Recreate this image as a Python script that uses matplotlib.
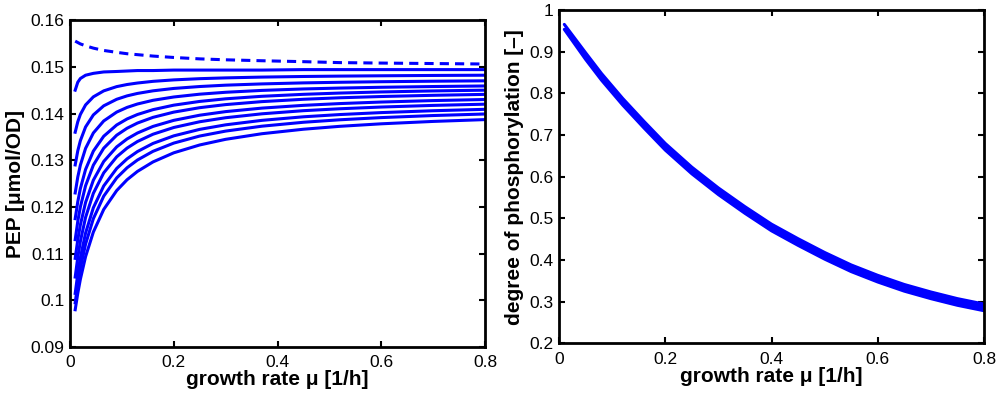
import matplotlib
matplotlib.use("Agg")
import matplotlib.pyplot as plt
from matplotlib.ticker import FuncFormatter

plt.rcParams["font.family"] = ["Liberation Sans", "DejaVu Sans"]

# growth rate samples (1/h)
mu = [0.01, 0.015, 0.02, 0.03, 0.045, 0.065, 0.09, 0.11, 0.13, 0.16,
      0.2, 0.25, 0.3, 0.37, 0.45, 0.52, 0.6, 0.7, 0.8]

# PEP concentration curves (umol/OD), top to bottom
pep_dashed = [0.1555, 0.1552, 0.1549, 0.1545, 0.1540, 0.1535, 0.1531, 0.1528, 0.1526, 0.1523,
              0.1520, 0.1517, 0.1515, 0.1513, 0.1511, 0.1509, 0.1508, 0.1507, 0.1506]
pep_curves = [
    [0.1450, 0.1467, 0.1475, 0.1482, 0.1486, 0.1489, 0.1490, 0.1491, 0.1492, 0.1492,
     0.1493, 0.1493, 0.1493, 0.1493, 0.1494, 0.1494, 0.1494, 0.1494, 0.1494],
    [0.1360, 0.13824, 0.13981, 0.14184, 0.14357, 0.14485, 0.14576, 0.14621, 0.14653, 0.14689,
     0.1472, 0.14746, 0.14763, 0.1478, 0.14793, 0.14801, 0.14808, 0.14815, 0.1482],
    [0.1290, 0.13202, 0.13419, 0.13712, 0.1397, 0.14165, 0.14305, 0.14378, 0.1443, 0.14486,
     0.14537, 0.14578, 0.14607, 0.14634, 0.14656, 0.14669, 0.14681, 0.14692, 0.1470],
    [0.1230, 0.12641, 0.12897, 0.13254, 0.13584, 0.13841, 0.14031, 0.14131, 0.14204, 0.14283,
     0.14354, 0.14414, 0.14455, 0.14495, 0.14526, 0.14545, 0.14562, 0.14578, 0.1459],
    [0.1175, 0.12113, 0.12395, 0.12803, 0.13195, 0.13514, 0.13755, 0.13884, 0.13979, 0.14083,
     0.14179, 0.14259, 0.14315, 0.14369, 0.14411, 0.14438, 0.14462, 0.14484, 0.1450],
    [0.1130, 0.11693, 0.12001, 0.12454, 0.12895, 0.13258, 0.13536, 0.13685, 0.13796, 0.13918,
     0.1403, 0.14125, 0.14191, 0.14255, 0.14305, 0.14337, 0.14364, 0.1439, 0.1441],
    [0.1090, 0.1130, 0.11618, 0.12096, 0.12573, 0.12974, 0.13286, 0.13456, 0.13583, 0.13724,
     0.13854, 0.13964, 0.14041, 0.14116, 0.14175, 0.14213, 0.14246, 0.14277, 0.1430],
    [0.1050, 0.10923, 0.11263, 0.11776, 0.12292, 0.1273, 0.13073, 0.1326, 0.13401, 0.13557,
     0.13701, 0.13824, 0.1391, 0.13994, 0.14061, 0.14102, 0.14139, 0.14174, 0.1420],
    [0.1015, 0.1057, 0.10914, 0.11441, 0.11983, 0.1245, 0.12824, 0.1303, 0.13186, 0.1336,
     0.13522, 0.13661, 0.13758, 0.13854, 0.1393, 0.13978, 0.1402, 0.1406, 0.1409],
    [0.0995, 0.10351, 0.10684, 0.11204, 0.11749, 0.12231, 0.12622, 0.12839, 0.13005, 0.13191,
     0.13367, 0.13518, 0.13624, 0.13729, 0.13813, 0.13866, 0.13913, 0.13957, 0.1399],
    [0.0980, 0.10153, 0.10453, 0.10936, 0.11463, 0.11947, 0.12351, 0.12583, 0.12761, 0.12964,
     0.13159, 0.13327, 0.13448, 0.13568, 0.13664, 0.13726, 0.1378, 0.13831, 0.1387],
]

# degree of phosphorylation band (upper / lower edge)
mu_phos = [0.01, 0.03, 0.05, 0.08, 0.12, 0.16, 0.2, 0.25, 0.3, 0.35, 0.4,
           0.45, 0.5, 0.55, 0.6, 0.65, 0.7, 0.75, 0.8]
phos_upper = [0.966, 0.932, 0.898, 0.848, 0.788, 0.733, 0.680, 0.623, 0.573, 0.528,
              0.486, 0.451, 0.418, 0.388, 0.363, 0.341, 0.323, 0.307, 0.294]
phos_lower = [0.954, 0.918, 0.882, 0.832, 0.772, 0.717, 0.664, 0.607, 0.557, 0.512,
              0.470, 0.435, 0.402, 0.372, 0.347, 0.325, 0.307, 0.291, 0.278]

blue = "#0000ff"
fmt = FuncFormatter(lambda v, p: "{:g}".format(round(v, 4)))


def style(ax):
    for s in ax.spines.values():
        s.set_linewidth(2.0)
    ax.tick_params(direction="in", length=4, width=1.5, top=True, right=True,
                   labelsize=12.5)
    ax.tick_params(axis="x", pad=6)
    ax.tick_params(axis="y", pad=4)
    ax.xaxis.set_major_formatter(fmt)
    ax.yaxis.set_major_formatter(fmt)


fig = plt.figure(figsize=(10, 3.94), dpi=100)

ax1 = fig.add_axes([0.070, 0.119, 0.415, 0.830])
ax1.plot(mu, pep_dashed, color=blue, lw=2.2, ls=(0, (3, 2)))
for c in pep_curves:
    ax1.plot(mu, c, color=blue, lw=2.2)
ax1.set_xlim(0, 0.8)
ax1.set_ylim(0.09, 0.16)
ax1.set_xticks([0, 0.2, 0.4, 0.6, 0.8])
ax1.set_yticks([0.09, 0.10, 0.11, 0.12, 0.13, 0.14, 0.15, 0.16])
style(ax1)
ax1.set_xlabel("growth rate μ [1/h]", fontsize=15, fontweight="bold", labelpad=0)
ax1.set_ylabel("PEP [μmol/OD]", fontsize=15, fontweight="bold", labelpad=4)

ax2 = fig.add_axes([0.559, 0.129, 0.425, 0.845])
ax2.fill_between(mu_phos, phos_lower, phos_upper, color=blue, lw=0)
ax2.plot(mu_phos, phos_upper, color=blue, lw=2.2, solid_capstyle="round")
ax2.plot(mu_phos, phos_lower, color=blue, lw=2.2, solid_capstyle="round")
ax2.set_xlim(0, 0.8)
ax2.set_ylim(0.2, 1.0)
ax2.set_xticks([0, 0.2, 0.4, 0.6, 0.8])
ax2.set_yticks([0.2, 0.3, 0.4, 0.5, 0.6, 0.7, 0.8, 0.9, 1.0])
style(ax2)
ax2.set_xlabel("growth rate μ [1/h]", fontsize=15, fontweight="bold", labelpad=0)
ax2.set_ylabel("degree of phosphorylation [–]", fontsize=15, fontweight="bold", labelpad=4)

fig.savefig("out.png", dpi=100)
